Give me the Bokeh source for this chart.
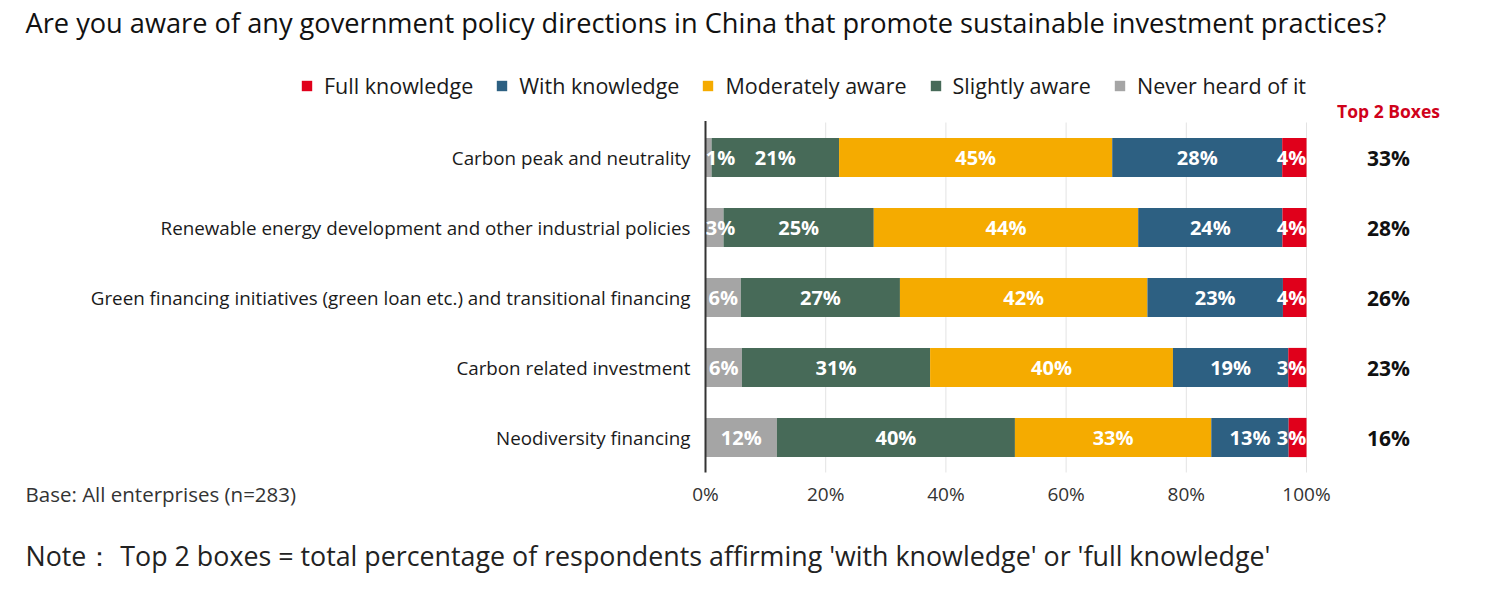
import numpy as np
import pandas as pd
from bokeh.plotting import figure
from bokeh.models import ColumnDataSource, Range1d, Legend, LegendItem
from bokeh.core.properties import value
from bokeh.embed import file_html
from bokeh.resources import INLINE

# ---------------- data ----------------
categories = [
    "Carbon peak and neutrality",
    "Renewable energy development and other industrial policies",
    "Green financing initiatives (green loan etc.) and transitional financing",
    "Carbon related investment",
    "Neodiversity financing",
]
never_heard = [1, 3, 6, 6, 12]
slightly_aware = [21, 25, 27, 31, 40]
moderately_aware = [45, 44, 42, 40, 33]
with_knowledge = [28, 24, 23, 19, 13]
full_knowledge = [4, 4, 4, 3, 3]
top2_boxes = [33, 28, 26, 23, 16]
x_ticks = [0, 20, 40, 60, 80, 100]
x_tick_labels = ["0%", "20%", "40%", "60%", "80%", "100%"]

series_keys = ["never", "slight", "moderate", "with", "full"]
series_names = ["Never heard of it", "Slightly aware", "Moderately aware",
                "With knowledge", "Full knowledge"]
series_colors = ["#A5A5A5", "#476A58", "#F5AB00", "#2D6082", "#E0001B"]

title_text = "Are you aware of any government policy directions in China that promote sustainable investment practices?"
top2_header = "Top 2 Boxes"
base_text = "Base: All enterprises (n=283)"
note_text = "Note\uff1a Top 2 boxes = total percentage of respondents affirming 'with knowledge' or 'full knowledge'"

# ---------------- layout constants (pixels) ----------------
W, H = 1484, 577
X0_PX, X100_PX = 705.0, 1306.0      # 0% and 100% positions
ROW0_PX, ROW_STEP = 157.0, 70.0     # first row centre, row spacing
PX = (X100_PX - X0_PX) / 100.0

def dx(px):
    return (px - X0_PX) / PX

def dy(py):
    return (py - ROW0_PX) / ROW_STEP

FONT = "Open Sans"

# ---------------- build ----------------
raw = pd.DataFrame({
    "never": never_heard, "slight": slightly_aware, "moderate": moderately_aware,
    "with": with_knowledge, "full": full_knowledge,
})
totals = raw.sum(axis=1)
share = raw.div(totals, axis=0) * 100.0
n = len(categories)
share["y"] = np.arange(n)
source = ColumnDataSource(share)

p = figure(width=W, height=H, output_backend="svg", toolbar_location=None,
           x_range=Range1d(dx(0), dx(W)), y_range=Range1d(dy(H), dy(0)),
           min_border=0)
p.axis.visible = False
p.grid.visible = False
p.outline_line_color = None
p.background_fill_color = "white"
p.border_fill_color = "white"

# grid lines
p.segment(x0=x_ticks[1:], x1=x_ticks[1:], y0=-0.5, y1=n - 0.5,
          line_color="#E3E3E3", line_width=1)

renderers = p.hbar_stack(series_keys, y="y", height=0.56, color=series_colors,
                         line_color=None, source=source)

# value axis line (left spine)
p.segment(x0=[0], x1=[0], y0=[-0.52], y1=[n - 0.5], line_color="#333333", line_width=2)

# in-bar labels
cum = share[series_keys].cumsum(axis=1)
lx, ly, lt = [], [], []
for i in range(n):
    prev = 0.0
    for k in series_keys:
        end = cum.loc[i, k]
        txt = f"{raw.loc[i, k]}%"
        half = 2.5 if len(txt) == 2 else 3.5
        c = min(max((prev + end) / 2.0, half), 100 - half)
        lx.append(c); ly.append(i); lt.append(txt)
        prev = end
p.text(x=lx, y=ly, text=lt, text_align="center", text_baseline="middle",
       text_color="white", text_font=value(FONT), text_font_style="bold",
       text_font_size="20px")

# category labels
p.text(x=[dx(690)] * n, y=list(range(n)), text=categories, text_align="right",
       text_baseline="middle", text_color="#1a1a1a", text_font=value(FONT),
       text_font_size="18.8px")

# x tick labels
p.text(x=x_ticks, y=[dy(493)] * len(x_ticks), text=x_tick_labels, text_align="center",
       text_baseline="middle", text_color="#333333", text_font=value(FONT),
       text_font_size="19px")

# top-2 column
p.text(x=[dx(1388)] * n, y=list(range(n)), text=[f"{v}%" for v in top2_boxes],
       text_align="center", text_baseline="middle", text_color="#111111",
       text_font=value(FONT), text_font_style="bold", text_font_size="21px")
p.text(x=[dx(1388)], y=[dy(110)], text=[top2_header], text_align="center",
       text_baseline="middle", text_color="#D0021B", text_font=value(FONT),
       text_font_style="bold", text_font_size="17.5px")

# title, base, note
p.text(x=[dx(25)], y=[dy(22)], text=[title_text], text_align="left",
       text_baseline="middle", text_color="#111111", text_font=value(FONT),
       text_font_size="27.2px")
p.text(x=[dx(25)], y=[dy(493)], text=[base_text], text_align="left",
       text_baseline="middle", text_color="#333333", text_font=value(FONT),
       text_font_size="20.5px")
p.text(x=[dx(25)], y=[dy(555)], text=[note_text], text_align="left",
       text_baseline="middle", text_color="#222222", text_font=value(FONT),
       text_font_size="26.8px")

# legend
order = [4, 3, 2, 1, 0]
legend = Legend(items=[LegendItem(label=series_names[j], renderers=[renderers[j]]) for j in order],
                orientation="horizontal", location=(300, H - 100))
legend.glyph_width = 13
legend.glyph_height = 13
legend.label_standoff = 11
legend.spacing = 22
legend.padding = 0
legend.margin = 0
legend.border_line_color = None
legend.background_fill_alpha = 0
legend.label_text_font = FONT
legend.label_text_font_size = "21.5px"
legend.label_text_color = "#1a1a1a"
legend.label_height = 26
p.add_layout(legend, "center")

open("out.html", "w").write(file_html(p, INLINE))
